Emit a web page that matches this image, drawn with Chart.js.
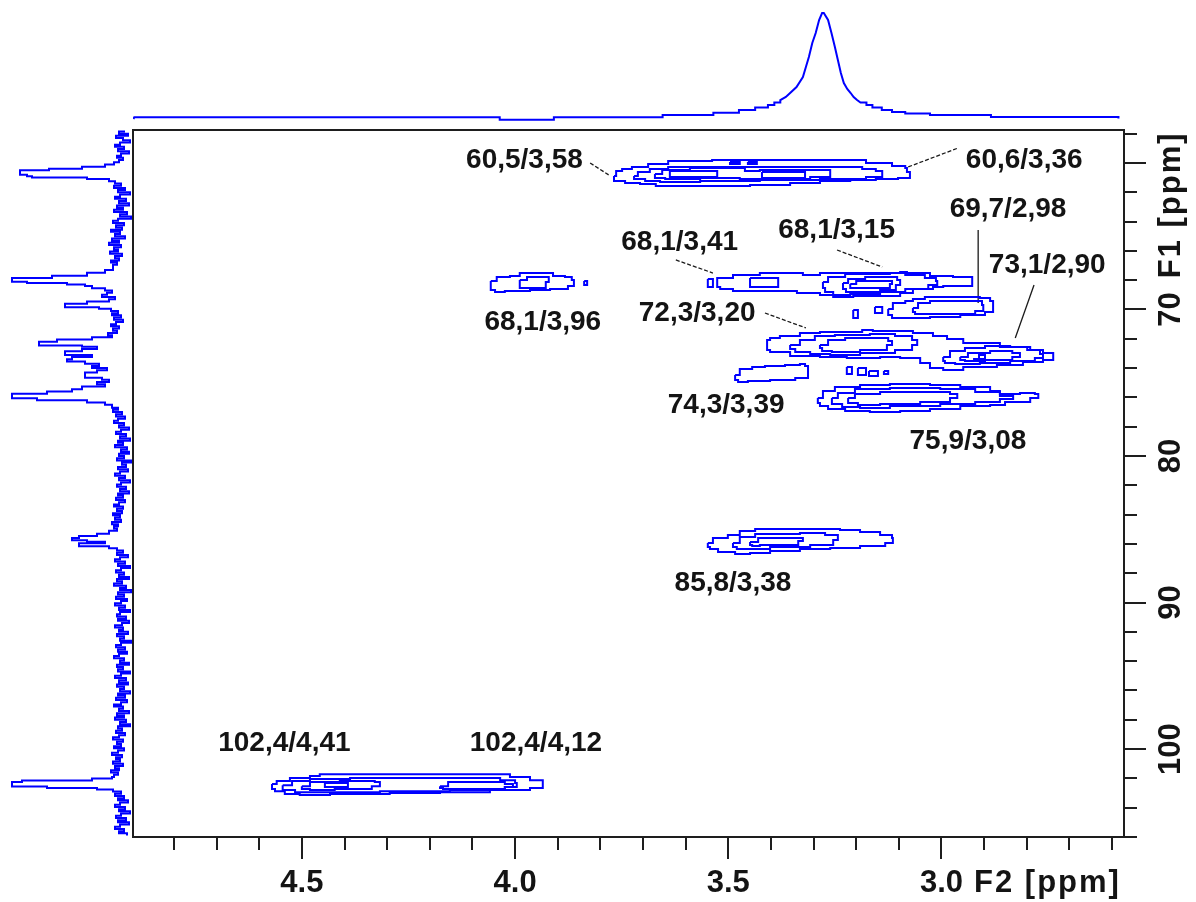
<!DOCTYPE html>
<html>
<head>
<meta charset="utf-8">
<script src="https://cdn.jsdelivr.net/npm/chart.js@4.4.1/dist/chart.umd.min.js"></script>
<style>
  html, body { margin: 0; padding: 0; background: #fff; }
  #wrap { position: relative; width: 1196px; height: 902px; }
  #wrap canvas { position: absolute; left: 0; top: 0; }
</style>
</head>
<body>
<div id="wrap">
  <canvas id="hsqc" width="1196" height="902"></canvas>
  <canvas id="projTop" width="1196" height="128"></canvas>
  <canvas id="projLeft" width="135" height="902"></canvas>
</div>
<script>
// axis limits (ppm)
const F2_MIN = 2.572, F2_MAX = 4.896;
const F1_MIN = 57.75, F1_MAX = 106;

const xMajor = [4.5, 4.0, 3.5, 3.0];
const xMinor = [4.8, 4.7, 4.6, 4.4, 4.3, 4.2, 4.1, 3.9, 3.8, 3.7, 3.6, 3.4, 3.3, 3.2, 3.1, 2.9, 2.8, 2.7, 2.6];
const xTickLabels = ['4.5', '4.0', '3.5', '3.0'];
const xTitle = 'F2 [ppm]';
const yMajor = [60, 70, 80, 90, 100];
const yMinor = [58, 62, 64, 66, 68, 72, 74, 76, 78, 82, 84, 86, 88, 92, 94, 96, 98, 102, 104, 106];
const yLabelTicks = [70, 80, 90, 100];
const yTickLabels = ['70', '80', '90', '100'];
const yTitle = 'F1 [ppm]';

// cross peak annotations: F1/F2 shifts
const peakLabels = ['60,5/3,58', '60,6/3,36', '69,7/2,98', '68,1/3,15', '68,1/3,41', '73,1/2,90', '68,1/3,96',
  '72,3/3,20', '74,3/3,39', '75,9/3,08', '85,8/3,38', '102,4/4,41', '102,4/4,12'];
const labelAt = [[3.978, 59.80], [2.806, 59.80], [2.844, 63.14], [3.246, 64.57], [3.614, 65.39], [2.752, 66.96], [3.935, 70.85],
  [3.573, 70.27], [3.505, 76.52], [2.938, 78.98], [3.489, 88.67], [4.541, 99.62], [3.951, 99.62]];
const leaders = [
  [[3.824, 60.00], [3.780, 60.82]],
  [[3.078, 60.27], [2.961, 58.98]],
  [[2.914, 64.57], [2.914, 69.56]],
  [[3.245, 65.94], [3.139, 67.10]],
  [[3.623, 66.62], [3.536, 67.51]],
  [[2.783, 68.33], [2.827, 71.95]],
  [[3.414, 70.24], [3.318, 71.26]]
];
const solidLeaders = [2, 5];

// contour rings [F2, F1]
const ringA1 = [[3.768,60.89],[3.763,60.55],[3.749,60.41],[3.726,60.27],[3.688,60.07],[3.641,59.86],[3.538,59.80],[3.243,59.80],[3.177,60.00],[3.116,60.21],[3.085,60.34],[3.081,60.61],[3.074,60.68],[3.074,61.02],[3.102,61.09],[3.154,61.16],[3.214,61.23],[3.285,61.37],[3.355,61.50],[3.449,61.57],[3.566,61.57],[3.641,61.57],[3.670,61.43],[3.707,61.37],[3.742,61.23],[3.768,61.16],[3.768,60.89]];
const ringA2 = [[3.721,60.89],[3.712,60.61],[3.684,60.41],[3.641,60.27],[3.238,60.27],[3.186,60.41],[3.154,60.55],[3.139,60.75],[3.139,60.96],[3.177,61.09],[3.285,61.16],[3.426,61.23],[3.566,61.30],[3.660,61.23],[3.695,61.09],[3.721,61.02],[3.721,60.89]];
const ringA3 = [[3.672,60.75],[3.655,60.48],[3.590,60.34],[3.484,60.34],[3.461,60.55],[3.426,60.48],[3.297,60.48],[3.261,60.68],[3.261,60.96],[3.308,61.09],[3.437,61.09],[3.473,61.02],[3.566,61.09],[3.648,61.02],[3.672,60.89],[3.672,60.75]];
const ringA4 = [[3.637,60.55],[3.526,60.55],[3.526,60.96],[3.637,60.96],[3.637,60.55]];
const ringA5 = [[3.421,60.61],[3.320,60.61],[3.320,61.02],[3.421,61.02],[3.421,60.61]];
const ringA6 = [[3.496,59.93],[3.473,59.93],[3.473,60.07],[3.496,60.07],[3.496,59.93]];
const ringA7 = [[3.454,59.93],[3.433,59.93],[3.433,60.07],[3.454,60.07],[3.454,59.93]];

const ringB1 = [[4.057,68.05],[4.043,67.78],[4.012,67.71],[3.989,67.51],[3.928,67.51],[3.911,67.71],[3.883,67.78],[3.867,67.99],[3.862,68.40],[3.876,68.60],[3.918,68.67],[3.965,68.74],[4.024,68.81],[4.047,68.67],[4.057,68.53],[4.057,68.05]];
const ringB2 = [[3.989,67.99],[3.972,67.78],[3.930,67.78],[3.921,68.12],[3.928,68.53],[3.984,68.53],[3.989,67.99]];
const dotB = [[3.838,68.05],[3.831,68.05],[3.831,68.33],[3.838,68.33],[3.838,68.05]];

const ringC0 = [[3.548,67.92],[3.536,67.92],[3.536,68.46],[3.548,68.46],[3.548,67.92]];
const ringC1 = [[3.526,68.19],[3.526,67.85],[3.489,67.65],[3.426,67.51],[3.325,67.65],[3.285,67.51],[3.097,67.44],[3.081,67.51],[3.027,67.71],[2.973,67.78],[2.945,67.78],[2.928,67.99],[2.928,68.40],[2.949,68.40],[2.996,68.46],[3.020,68.60],[3.067,68.87],[3.097,69.08],[3.207,69.15],[3.254,69.01],[3.285,68.87],[3.339,68.74],[3.419,68.74],[3.489,68.60],[3.519,68.46],[3.526,68.19]];
const ringC2 = [[3.278,68.12],[3.266,67.78],[3.226,67.58],[3.121,67.51],[3.085,67.65],[3.039,67.85],[3.013,68.05],[3.010,68.33],[3.031,68.60],[3.085,68.81],[3.144,68.94],[3.214,69.01],[3.254,68.81],[3.273,68.53],[3.278,68.12]];
const ringC3 = [[3.231,68.19],[3.219,67.92],[3.179,67.78],[3.132,67.78],[3.104,67.99],[3.097,68.33],[3.107,68.67],[3.144,68.81],[3.196,68.81],[3.224,68.60],[3.231,68.19]];
const ringC4 = [[3.214,68.26],[3.200,68.05],[3.135,68.05],[3.116,68.26],[3.121,68.53],[3.200,68.53],[3.214,68.26]];
const ringC5 = [[3.449,67.85],[3.383,67.85],[3.383,68.46],[3.449,68.46],[3.449,67.85]];

const ringD1 = [[3.125,69.97],[3.114,69.56],[3.085,69.42],[3.067,69.28],[3.039,69.15],[2.945,69.15],[2.910,69.21],[2.886,69.42],[2.879,69.76],[2.879,70.17],[2.898,70.38],[2.956,70.51],[3.027,70.58],[3.085,70.58],[3.116,70.38],[3.125,69.97]];
const ringD2 = [[3.067,69.90],[3.055,69.56],[3.027,69.42],[2.933,69.42],[2.905,69.69],[2.902,70.10],[2.921,70.31],[3.039,70.31],[3.062,70.17],[3.067,69.90]];
const blobD3 = [[3.207,70.03],[3.196,70.03],[3.196,70.58],[3.207,70.58],[3.207,70.03]];
const blobD4 = [[3.156,69.83],[3.139,69.83],[3.139,70.24],[3.156,70.24],[3.156,69.83]];

const ringE1 = [[3.409,72.42],[3.409,72.08],[3.402,71.95],[3.379,71.81],[3.332,71.60],[3.285,71.54],[3.186,71.40],[3.161,71.47],[3.067,71.60],[3.020,71.81],[2.987,72.01],[2.949,72.29],[2.863,72.56],[2.799,72.76],[2.762,72.97],[2.738,73.11],[2.738,73.45],[2.762,73.58],[2.809,73.79],[2.870,73.92],[2.949,74.13],[2.996,73.99],[3.027,73.65],[3.050,73.31],[3.097,73.24],[3.144,73.31],[3.222,73.24],[3.285,73.17],[3.355,72.90],[3.402,72.76],[3.409,72.42]];
const ringE2 = [[3.355,72.42],[3.332,72.08],[3.297,71.81],[3.250,71.74],[3.168,71.67],[3.109,71.81],[3.069,72.08],[3.057,72.42],[3.069,72.76],[3.109,72.97],[3.191,73.11],[3.261,73.04],[3.308,72.90],[3.343,72.70],[3.355,72.42]];
const ringE3 = [[3.285,72.42],[3.266,72.08],[3.226,71.95],[3.156,71.95],[3.125,72.15],[3.116,72.42],[3.128,72.76],[3.191,72.90],[3.257,72.83],[3.280,72.63],[3.285,72.42]];
const ringE4 = [[2.996,73.24],[2.980,72.83],[2.945,72.63],[2.898,72.49],[2.839,72.56],[2.792,72.76],[2.769,73.04],[2.762,73.31],[2.781,73.52],[2.839,73.65],[2.910,73.72],[2.968,73.65],[2.992,73.52],[2.996,73.24]];
const ringE5 = [[2.956,73.24],[2.938,72.97],[2.886,72.83],[2.834,72.97],[2.816,73.24],[2.834,73.45],[2.898,73.52],[2.945,73.45],[2.956,73.24]];
const triE6 = [[2.926,73.38],[2.912,73.11],[2.898,73.38],[2.926,73.38]];

const ringF1 = [[3.484,74.47],[3.473,74.06],[3.444,73.92],[3.414,73.86],[3.367,73.79],[3.332,73.72],[3.320,73.86],[3.313,74.27],[3.313,74.68],[3.343,74.81],[3.402,74.88],[3.454,74.95],[3.477,74.81],[3.484,74.47]];
const blobF2 = [[3.222,73.92],[3.210,73.92],[3.210,74.40],[3.222,74.40],[3.222,73.92]];
const blobF3 = [[3.196,73.99],[3.177,73.99],[3.177,74.47],[3.196,74.47],[3.196,73.99]];
const blobF4 = [[3.170,74.20],[3.149,74.20],[3.149,74.54],[3.170,74.54],[3.170,74.20]];
const blobF5 = [[3.135,74.20],[3.125,74.20],[3.125,74.40],[3.135,74.40],[3.135,74.20]];

const ringG1 = [[3.290,76.04],[3.278,75.56],[3.250,75.29],[3.191,75.15],[3.121,75.09],[3.027,75.15],[2.956,75.29],[2.886,75.56],[2.863,75.77],[2.816,75.70],[2.781,75.77],[2.773,76.04],[2.792,76.31],[2.851,76.52],[2.886,76.58],[2.956,76.79],[3.027,76.93],[3.097,77.00],[3.168,76.93],[3.226,76.79],[3.266,76.58],[3.285,76.38],[3.290,76.04]];
const ringG2 = [[3.257,76.04],[3.243,75.70],[3.203,75.43],[3.121,75.36],[3.003,75.43],[2.921,75.63],[2.863,75.90],[2.832,76.11],[2.863,76.31],[2.921,76.45],[3.003,76.58],[3.121,76.72],[3.191,76.65],[3.233,76.45],[3.257,76.04]];
const ringG3 = [[3.219,76.04],[3.203,75.77],[3.144,75.63],[3.027,75.63],[2.980,75.77],[2.963,76.04],[2.980,76.31],[3.050,76.45],[3.144,76.52],[3.196,76.38],[3.219,76.04]];

const ringH1 = [[3.548,85.94],[3.536,85.60],[3.501,85.39],[3.473,85.12],[3.437,84.98],[3.308,84.98],[3.238,85.05],[3.191,85.19],[3.144,85.39],[3.116,85.60],[3.114,85.94],[3.132,86.14],[3.191,86.28],[3.261,86.35],[3.332,86.48],[3.402,86.62],[3.449,86.69],[3.484,86.55],[3.524,86.35],[3.543,86.21],[3.548,85.94]];
const ringH2 = [[3.489,85.94],[3.473,85.53],[3.437,85.32],[3.332,85.26],[3.273,85.39],[3.243,85.73],[3.254,86.08],[3.308,86.21],[3.402,86.35],[3.454,86.35],[3.480,86.21],[3.489,85.94]];
const ringH3 = [[3.449,85.87],[3.430,85.60],[3.343,85.60],[3.325,85.80],[3.336,86.08],[3.426,86.14],[3.444,86.08],[3.449,85.87]];

const ringI1 = [[4.570,102.39],[4.559,102.18],[4.528,101.98],[4.481,101.84],[4.458,101.71],[4.176,101.71],[4.012,101.91],[3.965,102.12],[3.935,102.32],[3.935,102.66],[3.965,102.80],[4.059,102.94],[4.176,103.00],[4.294,103.07],[4.434,103.14],[4.505,103.07],[4.540,102.87],[4.563,102.73],[4.570,102.39]];
const ringI2 = [[4.545,102.46],[4.523,102.18],[4.481,102.05],[4.387,101.98],[4.153,101.98],[4.035,102.12],[4.000,102.32],[3.996,102.59],[4.024,102.80],[4.153,102.87],[4.317,102.94],[4.458,102.94],[4.516,102.80],[4.545,102.59],[4.545,102.46]];
const ringI3 = [[4.500,102.53],[4.481,102.25],[4.411,102.18],[4.329,102.25],[4.317,102.53],[4.336,102.73],[4.423,102.80],[4.481,102.73],[4.500,102.53]];
const ringI4 = [[4.176,102.53],[4.157,102.25],[4.082,102.25],[4.024,102.39],[4.005,102.59],[4.024,102.73],[4.129,102.73],[4.169,102.66],[4.176,102.53]];
const dashI5 = [[4.446,102.32],[4.392,102.32],[4.392,102.59],[4.446,102.59],[4.446,102.32]];

const contours = [ringA1, ringA2, ringA3, ringA4, ringA5, ringA6, ringA7,
  ringB1, ringB2, dotB,
  ringC0, ringC1, ringC2, ringC3, ringC4, ringC5,
  ringD1, ringD2, blobD3, blobD4,
  ringE1, ringE2, ringE3, ringE4, ringE5, triE6,
  ringF1, blobF2, blobF3, blobF4, blobF5,
  ringG1, ringG2, ringG3,
  ringH1, ringH2, ringH3,
  ringI1, ringI2, ringI3, ringI4, dashI5];

// F2 projection (1H): [ppm, intensity]
const topTrace = [[4.895,-1],[4.893,0.7],[4.036,0.7],[4.036,-1.7],[3.909,-1.7],[3.909,0.7],[3.654,0.7],[3.654,3],[3.535,3],[3.535,5.3],
  [3.475,5.3],[3.475,8],[3.437,8],[3.437,10.5],[3.407,10.5],[3.407,13],[3.392,13],[3.392,15.5],[3.378,15.5],[3.378,18],
  [3.365,21],[3.355,25],[3.340,31],[3.325,41],[3.318,51],[3.311,61],[3.303,75],[3.295,85],[3.287,98],[3.280,105],
  [3.276,105],[3.266,98],[3.258,85],[3.250,71],[3.243,58],[3.236,45],[3.229,35],[3.221,29],[3.213,25],[3.206,21],
  [3.198,18],[3.190,15.5],[3.176,15.5],[3.176,13],[3.162,13],[3.162,10.5],[3.140,10.5],[3.140,8],[3.116,8],[3.116,6],
  [3.085,6],[3.085,4.5],[3.027,4.5],[3.027,3],[2.884,3],[2.884,1],[2.585,1],[2.585,-0.5]];

// F1 projection (13C): [ppm, intensity]
const leftTrace = [
  [57.85,2],[58.0,8],[58.15,-1],[58.3,11],[58.45,4],[58.6,-3],[58.75,7],[58.9,12],[59.05,3],[59.2,9],[59.35,-2],[59.5,6],[59.65,10],[59.8,4],
  [59.95,8],[60.1,13],[60.25,22],[60.4,45],[60.5,78],[60.6,107],[60.8,107],[60.9,100],[61.0,95],[61.1,40],[61.25,18],[61.4,12],
  [61.55,6],[61.7,13],[61.85,2],[62.0,9],[62.15,-3],[62.3,7],[62.45,12],[62.6,1],[62.75,8],[62.9,-2],[63.05,10],[63.2,4],[63.35,13],
  [63.5,0],[63.65,7],[63.8,-4],[63.95,9],[64.1,14],[64.25,3],[64.4,11],[64.55,5],[64.7,16],[64.85,7],[65.0,12],[65.15,2],[65.3,15],
  [65.45,8],[65.6,18],[65.75,6],[65.9,13],[66.05,9],[66.2,17],[66.35,5],[66.5,12],[66.65,8],[66.8,16],[66.95,10],[67.1,14],
  [67.3,14],[67.5,22],[67.7,40],[67.85,75],[67.95,115],[68.1,115],[68.2,100],[68.3,60],[68.4,42],[68.55,35],[68.7,22],
  [68.85,15],[69.0,20],[69.15,25],[69.3,12],
  [69.45,18],[69.6,40],[69.7,62],[69.85,62],[69.95,28],[70.1,16],
  [70.25,9],[70.4,15],[70.55,6],[70.7,13],[70.85,4],[71.0,11],[71.15,16],[71.3,8],[71.45,14],[71.6,10],[71.75,19],[71.9,15],
  [72.05,35],[72.2,70],[72.3,88],[72.45,88],[72.55,45],[72.7,30],[72.85,45],[73.0,62],[73.1,62],[73.25,35],[73.4,55],
  [73.55,60],[73.7,42],[73.85,28],[74.0,35],[74.15,20],[74.3,30],[74.5,42],[74.65,42],[74.8,25],[74.95,18],[75.1,30],
  [75.25,22],[75.45,45],[75.6,55],[75.75,80],[75.85,115],[76.05,115],[76.2,90],[76.35,40],[76.5,22],[76.7,15],
  [76.85,9],[77.0,14],[77.15,5],[77.3,11],[77.45,2],[77.6,9],[77.75,13],[77.9,3],[78.05,8],[78.2,-2],[78.35,6],[78.5,11],
  [78.65,1],[78.8,7],[78.95,-3],[79.1,9],[79.25,4],[79.4,12],[79.55,0],[79.7,6],[79.85,-2],[80.0,8],[80.15,3],[80.3,10],
  [80.45,-4],[80.6,5],[80.75,1],[80.9,9],[81.05,-1],[81.2,7],[81.35,12],[81.5,2],[81.65,8],[81.8,-3],[81.95,6],[82.1,10],
  [82.25,1],[82.4,7],[82.55,-2],[82.7,9],[82.85,4],[83.0,11],[83.15,2],[83.3,8],[83.45,13],[83.6,4],[83.75,10],[83.9,5],
  [84.05,14],[84.2,7],[84.35,12],[84.5,6],[84.65,15],[84.8,9],[84.95,13],[85.1,10],
  [85.3,18],[85.45,30],[85.6,48],[85.75,55],[85.85,40],[85.95,22],[86.05,48],[86.15,48],[86.3,18],[86.45,10],
  [86.6,4],[86.75,10],[86.9,-1],[87.05,7],[87.2,12],[87.35,2],[87.5,9],[87.65,-3],[87.8,6],[87.95,11],[88.1,3],[88.25,8],
  [88.4,-2],[88.55,10],[88.7,5],[88.85,13],[89.0,1],[89.15,7],[89.3,-4],[89.45,9],[89.6,3],[89.75,11],[89.9,0],[90.05,6],
  [90.2,12],[90.35,2],[90.5,8],[90.65,-3],[90.8,7],[90.95,10],[91.1,1],[91.25,9],[91.4,-2],[91.55,5],[91.7,12],[91.85,4],
  [92.0,8],[92.15,-1],[92.3,10],[92.45,3],[92.6,7],[92.75,-4],[92.9,6],[93.05,11],[93.2,2],[93.35,9],[93.5,0],[93.65,8],
  [93.8,13],[93.95,3],[94.1,7],[94.25,-2],[94.4,10],[94.55,4],[94.7,9],[94.85,-3],[95.0,6],[95.15,12],[95.3,1],[95.45,8],
  [95.6,-1],[95.75,10],[95.9,3],[96.05,7],[96.2,-3],[96.35,9],[96.5,2],[96.65,11],[96.8,0],[96.95,6],[97.1,13],[97.25,4],
  [97.4,8],[97.55,-2],[97.7,10],[97.85,3],[98.0,12],[98.15,1],[98.3,7],[98.45,-3],[98.6,9],[98.75,5],[98.9,11],[99.05,2],
  [99.2,8],[99.35,14],[99.5,4],[99.65,10],[99.8,6],[99.95,13],[100.1,3],[100.25,9],[100.4,15],[100.55,5],[100.7,11],
  [100.85,7],[101.0,14],[101.15,4],[101.3,12],[101.45,8],[101.6,16],[101.75,9],[101.9,13],
  [102.0,15],[102.15,35],[102.25,105],[102.35,115],[102.55,115],[102.65,80],[102.75,30],[102.9,14],
  [103.05,6],[103.2,12],[103.35,3],[103.5,9],[103.65,-1],[103.8,7],[103.95,12],[104.1,2],[104.25,8],[104.4,-3],[104.55,6],
  [104.7,11],[104.85,1],[105.0,9],[105.15,-2],[105.3,7],[105.45,12],[105.6,3],[105.75,8],[105.9,0]
];

const BLUE = '#0000ff';
const labelFont = 'bold 28px "Liberation Sans", Arial, sans-serif';
const axisFont = 'bold 31px "Liberation Sans", Arial, sans-serif';

const toPoints = arr => arr.map(p => ({ x: p[0], y: p[1] }));

const contourSets = contours.map(r => ({
  data: toPoints(r),
  showLine: true,
  stepped: 'before',
  borderColor: BLUE,
  borderWidth: 2,
  pointRadius: 0,
  fill: false
}));
const leaderSets = leaders.map((l, i) => ({
  data: toPoints(l),
  showLine: true,
  borderColor: '#1a1a1a',
  borderWidth: 1.3,
  borderDash: solidLeaders.includes(i) ? [] : [4, 2],
  pointRadius: 0,
  fill: false
}));

// axis title after the last labelled tick, a bit spaced out
function drawTitle(ctx, text, start) {
  ctx.save();
  if ('letterSpacing' in ctx) ctx.letterSpacing = '2px';
  ctx.fillText(text, start, 0);
  ctx.restore();
}

// frame, ticks and all text for the 2D plot
const frameAndLabels = {
  id: 'frameAndLabels',
  afterDatasetsDraw(chart) {
    const { ctx, chartArea: a, scales: { x, y } } = chart;
    ctx.save();
    ctx.strokeStyle = '#1e1e1e';
    ctx.lineWidth = 2;
    ctx.strokeRect(a.left, a.top, a.right - a.left, a.bottom - a.top);

    ctx.beginPath();
    xMinor.forEach(v => { const px = Math.round(x.getPixelForValue(v)); ctx.moveTo(px, a.bottom); ctx.lineTo(px, a.bottom + 13); });
    xMajor.forEach(v => { const px = Math.round(x.getPixelForValue(v)); ctx.moveTo(px, a.bottom); ctx.lineTo(px, a.bottom + 22); });
    yMinor.forEach(v => { const py = Math.round(y.getPixelForValue(v)); ctx.moveTo(a.right, py); ctx.lineTo(a.right + 13, py); });
    yMajor.forEach(v => { const py = Math.round(y.getPixelForValue(v)); ctx.moveTo(a.right, py); ctx.lineTo(a.right + 22, py); });
    ctx.stroke();

    ctx.fillStyle = '#141414';
    ctx.font = axisFont;
    ctx.textAlign = 'left';
    ctx.textBaseline = 'alphabetic';
    xTickLabels.forEach((t, i) => {
      const px = x.getPixelForValue(xMajor[i]);
      const w = ctx.measureText(t).width;
      ctx.save();
      ctx.translate(px - w / 2, a.bottom + 55);
      ctx.fillText(t, 0, 0);
      if (i === xTickLabels.length - 1) drawTitle(ctx, xTitle, w + 11);
      ctx.restore();
    });
    yTickLabels.forEach((t, i) => {
      const py = y.getPixelForValue(yLabelTicks[i]);
      const w = ctx.measureText(t).width;
      ctx.save();
      ctx.translate(a.right + 56, py);
      ctx.rotate(-Math.PI / 2);
      ctx.translate(-w / 2, 0);
      ctx.fillText(t, 0, 0);
      if (i === 0) drawTitle(ctx, yTitle, w + 14);
      ctx.restore();
    });

    ctx.font = labelFont;
    ctx.textAlign = 'center';
    ctx.textBaseline = 'middle';
    peakLabels.forEach((t, i) => {
      ctx.fillText(t, x.getPixelForValue(labelAt[i][0]), y.getPixelForValue(labelAt[i][1]));
    });
    ctx.restore();
  }
};

const quiet = { legend: { display: false }, tooltip: { enabled: false } };

new Chart(document.getElementById('hsqc'), {
  type: 'scatter',
  data: { datasets: [...contourSets, ...leaderSets] },
  options: {
    responsive: false,
    animation: false,
    events: [],
    layout: { padding: { left: 133, right: 72, top: 130, bottom: 65 } },
    plugins: quiet,
    scales: {
      x: { type: 'linear', min: F2_MIN, max: F2_MAX, reverse: true, display: false },
      y: { type: 'linear', min: F1_MIN, max: F1_MAX, reverse: true, display: false }
    }
  },
  plugins: [frameAndLabels]
});

new Chart(document.getElementById('projTop'), {
  type: 'scatter',
  data: { datasets: [{ data: toPoints(topTrace), showLine: true, borderColor: BLUE, borderWidth: 2, pointRadius: 0 }] },
  options: {
    responsive: false,
    animation: false,
    events: [],
    layout: { padding: { left: 133, right: 72, top: 0, bottom: 0 } },
    plugins: quiet,
    scales: {
      x: { type: 'linear', min: F2_MIN, max: F2_MAX, reverse: true, display: false },
      y: { type: 'linear', min: -10, max: 118, display: false }
    }
  }
});

new Chart(document.getElementById('projLeft'), {
  type: 'scatter',
  data: { datasets: [{ data: leftTrace.map(p => ({ x: p[1], y: p[0] })), showLine: true, stepped: 'before', borderColor: BLUE, borderWidth: 2, pointRadius: 0 }] },
  options: {
    responsive: false,
    animation: false,
    events: [],
    layout: { padding: { left: 0, right: 2, top: 130, bottom: 65 } },
    plugins: quiet,
    scales: {
      x: { type: 'linear', min: -6, max: 127, reverse: true, display: false },
      y: { type: 'linear', min: F1_MIN, max: F1_MAX, reverse: true, display: false }
    }
  }
});
</script>
</body>
</html>
